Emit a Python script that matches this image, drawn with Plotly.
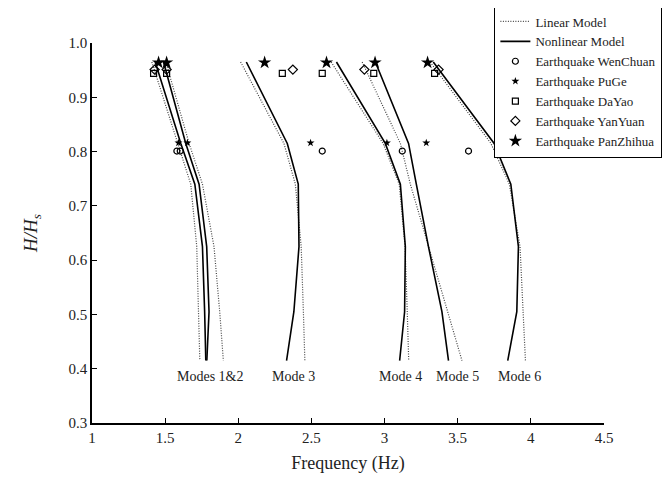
import plotly.graph_objects as go

# Height levels (H/Hs)
levels = [0.965, 0.815, 0.74, 0.625, 0.505, 0.415]

# Linear model frequencies (Hz) per mode
lin_m1 = [1.409, 1.584, 1.675, 1.716, 1.730, 1.737]
lin_m2 = [1.505, 1.664, 1.755, 1.834, 1.873, 1.898]
lin_m3 = [2.016, 2.312, 2.390, 2.430, 2.445, 2.455]
lin_m4 = [2.635, 2.990, 3.100, 3.140, 3.155, 3.165]
lin_m5 = [2.847, 3.108, 3.176, 3.300, 3.427, 3.529]
lin_m6 = [3.312, 3.727, 3.853, 3.926, 3.947, 3.963]

# Nonlinear model frequencies (Hz) per mode
non_m1 = [1.432, 1.607, 1.703, 1.755, 1.770, 1.778]
non_m2 = [1.489, 1.641, 1.732, 1.784, 1.800, 1.785]
non_m3 = [2.055, 2.335, 2.410, 2.415, 2.380, 2.330]
non_m4 = [2.671, 3.005, 3.108, 3.142, 3.137, 3.103]
non_m5 = [2.937, 3.164, 3.217, 3.300, 3.392, 3.437]
non_m6 = [3.333, 3.749, 3.863, 3.915, 3.904, 3.842]

# Earthquake identified frequencies
wenchuan_f = [1.580, 1.603, 2.574, 3.121, 3.574]
wenchuan_h = 0.801
puge_f = [1.591, 1.652, 2.494, 3.016, 3.285, 3.847]
puge_h = 0.816
dayao_f = [1.421, 1.510, 2.301, 2.574, 2.926, 3.342]
dayao_h = 0.944
yanyuan_f = [1.428, 1.510, 2.373, 2.862, 3.369]
yanyuan_h = 0.951
panzhihua_f = [1.455, 1.510, 2.180, 2.603, 2.935, 3.294]
panzhihua_h = 0.964

mode_labels = ["Modes 1&2", "Mode 3", "Mode 4", "Mode 5", "Mode 6"]
mode_label_x = [1.81, 2.378, 3.111, 3.50, 3.923]
mode_label_y = 0.385

x_ticks = [1, 1.5, 2, 2.5, 3, 3.5, 4, 4.5]
x_ticktext = ["1", "1.5", "2", "2.5", "3", "3.5", "4", "4.5"]
y_ticks = [0.3, 0.4, 0.5, 0.6, 0.7, 0.8, 0.9, 1.0]

FONT = "Liberation Serif, Times New Roman, Times, DejaVu Serif, serif"
TXT = "#222222"

fig = go.Figure()

lin_all = [lin_m1, lin_m2, lin_m3, lin_m4, lin_m5, lin_m6]
non_all = [non_m1, non_m2, non_m3, non_m4, non_m5, non_m6]

for i, xs in enumerate(lin_all):
    fig.add_trace(go.Scatter(
        x=xs, y=levels, mode="lines",
        line=dict(color="#444444", width=1.2, dash="1px,1.5px"),
        name="Linear Model", legendgroup="lin", showlegend=(i == 0)))
for i, xs in enumerate(non_all):
    fig.add_trace(go.Scatter(
        x=xs, y=levels, mode="lines",
        line=dict(color="black", width=1.6),
        name="Nonlinear Model", legendgroup="non", showlegend=(i == 0)))

def pts(fs, h, name, symbol, size, lw):
    fig.add_trace(go.Scatter(
        x=fs, y=[h] * len(fs), mode="markers", name=name,
        marker=dict(symbol=symbol, size=size, color="black",
                    line=dict(color="black", width=lw))))

pts(wenchuan_f, wenchuan_h, "Earthquake WenChuan", "circle-open", 6, 1.2)
pts(puge_f, puge_h, "Earthquake PuGe", "star", 6, 0)
pts(dayao_f, dayao_h, "Earthquake DaYao", "square-open", 6, 1.2)
pts(yanyuan_f, yanyuan_h, "Earthquake YanYuan", "diamond-open", 7, 1.2)
pts(panzhihua_f, panzhihua_h, "Earthquake PanZhihua", "star", 10, 0)

for t, x in zip(mode_labels, mode_label_x):
    fig.add_annotation(x=x, y=mode_label_y, text=t, showarrow=False,
                       font=dict(family=FONT, size=14, color=TXT))

axis_common = dict(showline=True, linecolor="black", linewidth=1.5,
                   ticks="inside", ticklen=5, tickwidth=1.2, tickcolor="black",
                   showgrid=False, zeroline=False, mirror=False,
                   tickfont=dict(family=FONT, size=15, color=TXT))

fig.update_xaxes(range=[1, 4.5], tickvals=x_ticks, ticktext=x_ticktext,
                 title=dict(text="Frequency (Hz)", font=dict(family=FONT, size=18, color=TXT), standoff=12),
                 **axis_common)
fig.update_yaxes(range=[0.3, 1.0], tickvals=y_ticks, tickformat=".1f",
                 title=dict(text="<i>H/H</i><sub><i>s</i></sub>", font=dict(family=FONT, size=19, color=TXT), standoff=26),
                 **axis_common)

fig.update_layout(
    width=670, height=480,
    margin=dict(l=84, r=74, t=35, b=65, autoexpand=False),
    plot_bgcolor="white", paper_bgcolor="white",
    font=dict(family=FONT, color=TXT),
    legend=dict(x=1.115, y=1.1, xanchor="right", yanchor="top",
                bgcolor="white", bordercolor="black", borderwidth=1.5,
                font=dict(family=FONT, size=13, color=TXT),
                itemwidth=30, tracegroupgap=0),
)

fig.write_html("out.html")
